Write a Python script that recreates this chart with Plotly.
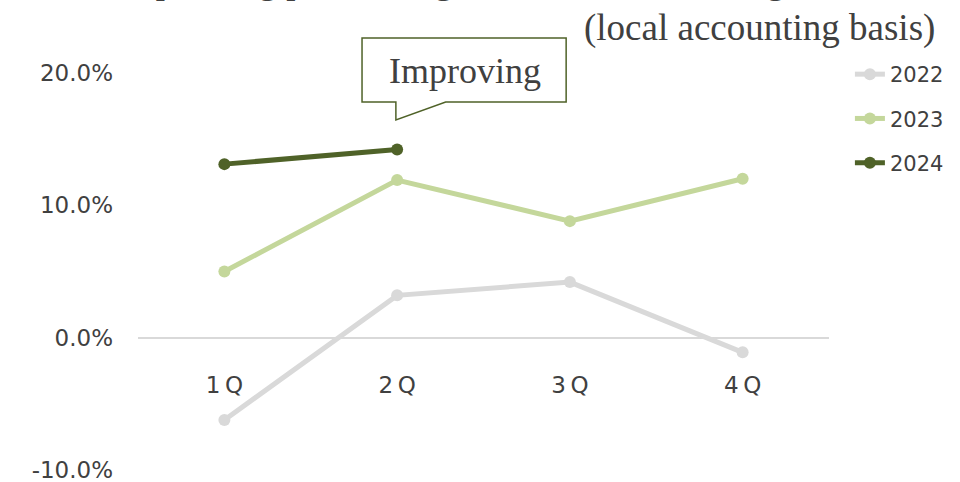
import plotly.graph_objects as go

quarters = ["1Q", "2Q", "3Q", "4Q"]
quarter_labels = ["1\u2009Q", "2\u2009Q", "3\u2009Q", "4\u2009Q"]
y2022 = [-0.062, 0.032, 0.042, -0.011]
y2023 = [0.050, 0.119, 0.088, 0.120]
y2024 = [0.131, 0.142]
series_names = ["2022", "2023", "2024"]
series_colors = ["#d9d9d9", "#c4d79b", "#4f6228"]
y_range = [-0.10, 0.20]
y_ticks = [-0.10, 0.0, 0.10, 0.20]
y_tick_labels = ["-10.0%", "0.0%", "10.0%", "20.0%"]

title_line1 = "Operating profit margin of overseas housing"
title_line2 = "(local accounting basis)"
callout_text = "Improving"

W, H = 960, 482
ML, MR, MT, MB = 138, 128, 72, 11
PW, PH = W - ML - MR, H - MT - MB


def px_x(px):
    return (px - ML) / PW


def px_y(py):
    return (H - MB - py) / PH


fig = go.Figure()
for name, vals, col in zip(series_names, [y2022, y2023, y2024], series_colors):
    fig.add_trace(go.Scatter(
        x=quarters[:len(vals)], y=vals, name=name, mode="lines+markers",
        line=dict(color=col, width=5), marker=dict(color=col, size=12),
        legendgroup=name,
    ))

zero_pos = (0 - y_range[0]) / (y_range[1] - y_range[0])

tick_font = dict(family="DejaVu Sans", size=23, color="#404040")
serif = "Liberation Serif"

fig.update_layout(
    width=W, height=H,
    margin=dict(l=ML, r=MR, t=MT, b=MB),
    paper_bgcolor="white", plot_bgcolor="white",
    showlegend=True,
    legend=dict(x=px_x(853), y=px_y(54), xanchor="left", yanchor="top",
                font=dict(family="DejaVu Sans", size=21, color="#404040"),
                tracegroupgap=14, bgcolor="rgba(0,0,0,0)"),
    xaxis=dict(type="category", categoryorder="array", categoryarray=quarters,
               tickvals=quarters, ticktext=quarter_labels,
               range=[-0.5, 3.5], anchor="free", position=zero_pos,
               showline=False, showgrid=False, zeroline=False, ticks="",
               ticklabelstandoff=31, tickfont=tick_font, automargin=False),
    yaxis=dict(range=[y_range[0] - 0.0005, y_range[1] + 0.0005],
               tickvals=y_ticks, ticktext=y_tick_labels, showgrid=False,
               zeroline=True, zerolinecolor="#d9d9d9", zerolinewidth=2,
               showline=False, ticks="", ticklabelstandoff=24, tickfont=tick_font,
               ticklabeloverflow="allow", automargin=False),
)

# speech-bubble callout
L, R, T, B = px_x(363), px_x(568), px_y(38), px_y(102)
x1, x2, tip = px_x(397), px_x(447), px_y(120)
path = (f"M {L},{T} L {R},{T} L {R},{B} L {x2},{B} L {x1},{tip} "
        f"L {x1},{B} L {L},{B} Z")
fig.add_shape(type="path", path=path, xref="paper", yref="paper",
              fillcolor="white", line=dict(color="#4f6228", width=1.5), layer="above")

fig.add_annotation(x=px_x(466), y=px_y(71), xref="paper", yref="paper",
                   text=callout_text, showarrow=False, xanchor="center", yanchor="middle",
                   font=dict(family=serif, size=36, color="#404040"))
fig.add_annotation(x=px_x(940), y=px_y(28), xref="paper", yref="paper",
                   text=title_line2, showarrow=False, xanchor="right", yanchor="middle",
                   font=dict(family=serif, size=37, color="#404040"))
fig.add_annotation(x=px_x(127), y=px_y(3.5), xref="paper", yref="paper",
                   text=title_line1, showarrow=False, xanchor="left", yanchor="bottom",
                   font=dict(family=serif, size=37, color="#404040"))

fig.write_html("out.html")
